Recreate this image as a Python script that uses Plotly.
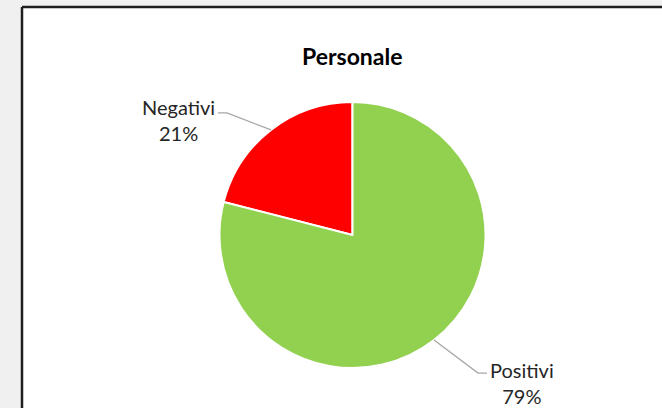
import math
import plotly.graph_objects as go

# data
labels = ["Negativi", "Positivi"]
values = [21, 79]
colors = ["#FF0000", "#92D050"]
title = "Personale"

W, H = 662, 408
cx, cy, r = 352.5, 235, 133  # pie centre / radius in px


def px(x):
    return x / W


def py(y):
    return 1 - y / H


total = sum(values)

# first slice ends at 12 o'clock, running counterclockwise from there
fig = go.Figure(go.Pie(
    labels=labels,
    values=values,
    marker=dict(colors=colors, line=dict(color="white", width=2)),
    sort=False,
    direction="clockwise",
    rotation=-values[0] / total * 360,
    textinfo="none",
    hoverinfo="label+percent",
    domain=dict(x=[px(cx - r), px(cx + r)], y=[py(cy + r), py(cy - r)]),
    showlegend=False,
))

# chart frame
shapes = [
    dict(type="rect", xref="paper", yref="paper", x0=px(22), x1=1.01, y0=-0.01, y1=py(7),
         fillcolor="white", line=dict(width=0), layer="below"),
    dict(type="line", xref="paper", yref="paper", x0=px(22), x1=1.01, y0=py(7), y1=py(7),
         line=dict(color="#1e1e1e", width=2.5)),
    dict(type="line", xref="paper", yref="paper", x0=px(22), x1=px(22), y0=py(7), y1=-0.01,
         line=dict(color="#1e1e1e", width=2.5)),
]

annotations = [dict(text="<b>" + title + "</b>", x=px(352), y=py(40), xref="paper", yref="paper",
                    showarrow=False, font=dict(size=23, color="black", family="Lato"))]

# labels with leader lines from slice mid-angle
cum = 0
for lab, v in zip(labels, values):
    mid = (cum + v / 2) / total * 2 * math.pi
    cum += v
    ex = cx - r * math.sin(mid)
    ey = cy - r * math.cos(mid)
    left = ex < cx
    upper = ey < cy
    side = -1 if left else 1
    kx = ex + side * 44
    ky = ey + (-17 if upper else 33)
    hx = kx + side * 9
    shapes.append(dict(type="path", xref="paper", yref="paper",
                       path=f"M {px(ex)} {py(ey)} L {px(kx)} {py(ky)} L {px(hx)} {py(ky)}",
                       line=dict(color="#a6a6a6", width=1.3)))
    pct = round(v / total * 100)
    annotations.append(dict(
        text=f"{lab}<br>{pct}%", x=px(hx + side * 1), y=py(ky + (7 if upper else 10)),
        xref="paper", yref="paper", showarrow=False,
        xanchor="right" if left else "left", yanchor="middle", align="center",
        font=dict(size=20, color="#262626", family="Lato")))

fig.update_layout(
    width=W, height=H,
    margin=dict(l=0, r=0, t=0, b=0),
    paper_bgcolor="#f0f0f0",
    plot_bgcolor="white",
    shapes=shapes,
    annotations=annotations,
)

fig.write_html("out.html", config=dict(displayModeBar=False),
               post_script="document.body.style.margin='0';document.body.style.background='#f0f0f0';")
